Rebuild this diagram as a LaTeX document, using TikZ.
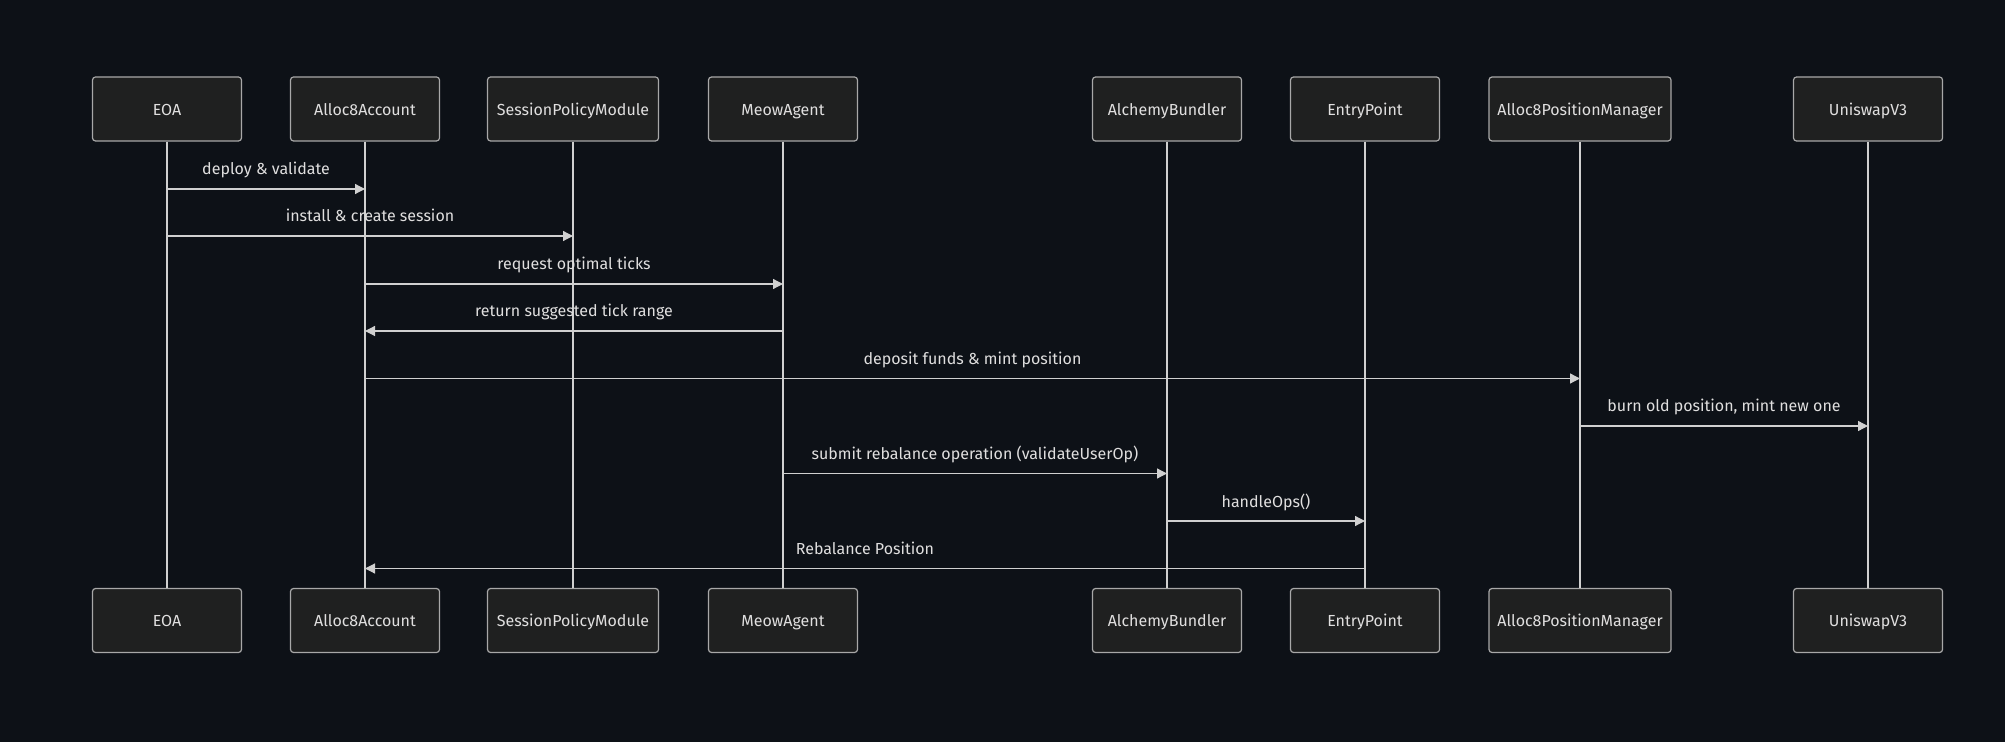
\documentclass[tikz,border=0pt]{standalone}
\usepackage{fontspec}
\setmainfont{Fira Sans}
\usepackage{tikz}
\usetikzlibrary{arrows.meta}
\definecolor{bgdark}{HTML}{0D1117}
\definecolor{boxfill}{HTML}{1F2020}
\definecolor{boxline}{HTML}{A8A8A8}
\definecolor{wire}{HTML}{D0D0D0}
\definecolor{ink}{HTML}{E0DFDF}
\tikzstyle{actor} = [rectangle, draw=boxline, fill=boxfill, line width=0.6pt, rounded corners=1.5pt,
    text=ink, font=\fontsize{8}{10}\selectfont, text height=1.5ex, text depth=.3ex,
    minimum height=32pt, minimum width=74.5pt, inner sep=1pt]
\tikzstyle{lifeline} = [draw=wire, line width=0.6pt]
\tikzstyle{msg} = [draw=wire, line width=0.6pt, -{Triangle[length=5pt,width=5pt]}]
\tikzstyle{msglabel} = [anchor=base, yshift=7pt, text=ink, font=\fontsize{8}{10}\selectfont, inner sep=0pt]

\begin{document}
\begin{tikzpicture}[x=0.5pt, y=-0.5pt]
	\fill[bgdark] (0,0) rectangle (2005,742);
	\useasboundingbox (0,0) rectangle (2005,742);

	% Place nodes
	\node [actor] at (167,109) (eoa) {EOA};
	\node [actor] at (365,109) (account) {Alloc8Account};
	\node [actor, minimum width=85.5pt] at (573,109) (session) {SessionPolicyModule};
	\node [actor] at (783,109) (meow) {MeowAgent};
	\node [actor] at (1167,109) (bundler) {AlchemyBundler};
	\node [actor] at (1365,109) (entry) {EntryPoint};
	\node [actor, minimum width=91pt] at (1580,109) (manager) {Alloc8PositionManager};
	\node [actor] at (1868,109) (uniswap) {UniswapV3};

	\node [actor] at (167,620.5) (eoaB) {EOA};
	\node [actor] at (365,620.5) (accountB) {Alloc8Account};
	\node [actor, minimum width=85.5pt] at (573,620.5) (sessionB) {SessionPolicyModule};
	\node [actor] at (783,620.5) (meowB) {MeowAgent};
	\node [actor] at (1167,620.5) (bundlerB) {AlchemyBundler};
	\node [actor] at (1365,620.5) (entryB) {EntryPoint};
	\node [actor, minimum width=91pt] at (1580,620.5) (managerB) {Alloc8PositionManager};
	\node [actor] at (1868,620.5) (uniswapB) {UniswapV3};

	% Lifelines
	\draw[lifeline](eoa)--(eoaB);
	\draw[lifeline](account)--(accountB);
	\draw[lifeline](session)--(sessionB);
	\draw[lifeline](meow)--(meowB);
	\draw[lifeline](bundler)--(bundlerB);
	\draw[lifeline](entry)--(entryB);
	\draw[lifeline](manager)--(managerB);
	\draw[lifeline](uniswap)--(uniswapB);

	% Messages
	\draw[msg](eoa |- 0,189)--node[msglabel]{deploy \& validate}(account |- 0,189);
	\draw[msg](eoa |- 0,236)--node[msglabel]{install \& create session}(session |- 0,236);
	\draw[msg](account |- 0,284)--node[msglabel]{request optimal ticks}(meow |- 0,284);
	\draw[msg](meow |- 0,331)--node[msglabel]{return suggested tick range}(account |- 0,331);
	\draw[msg](account |- 0,378.5)--node[msglabel]{deposit funds \& mint position}(manager |- 0,378.5);
	\draw[msg](manager |- 0,426)--node[msglabel]{burn old position, mint new one}(uniswap |- 0,426);
	\draw[msg](meow |- 0,473.5)--node[msglabel]{submit rebalance operation (validateUserOp)}(bundler |- 0,473.5);
	\draw[msg](bundler |- 0,521)--node[msglabel]{handleOps()}(entry |- 0,521);
	\draw[msg](entry |- 0,568.5)--node[msglabel]{Rebalance Position}(account |- 0,568.5);
\end{tikzpicture}
\end{document}
